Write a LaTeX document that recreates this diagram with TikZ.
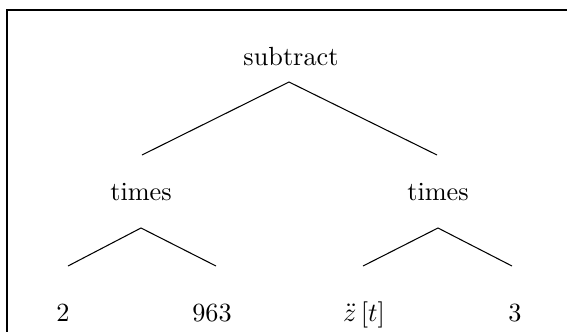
\documentclass[tikz,border=0pt]{standalone}
\begin{document}
\begin{tikzpicture}[x=0.381pt,y=-0.381pt,
  lbl/.style={anchor=base,inner sep=0pt,font=\fontsize{10}{12}\selectfont},
  edge/.style={line width=0.4pt},
  frame/.style={line width=1pt}]
\useasboundingbox (0,0) rectangle (567,331);
\clip (0,0) rectangle (567,331);
\draw[frame] (7,10) rectangle (600,360);
\node[lbl] (root) at (291,65) {subtract};
\node[lbl] (t1) at (141,200) {times};
\node[lbl] (t2) at (438,200) {times};
\node[lbl] (l1) at (63,321) {2};
\node[lbl] (l2) at (212,321) {963};
\node[lbl] (l3) at (364,321) {$\ddot{z}\left[t\right]$};
\node[lbl] (l4) at (515,321) {3};
\coordinate (rootb) at (289,82);
\coordinate (t1a) at (142,155);
\coordinate (t2a) at (437,155);
\coordinate (t1b) at (141,228);
\coordinate (t2b) at (438,228);
\coordinate (l1a) at (68,266);
\coordinate (l2a) at (216,266);
\coordinate (l3a) at (363,266);
\coordinate (l4a) at (512,266);
\draw[edge] (t1a) -- (rootb) -- (t2a);
\draw[edge] (l1a) -- (t1b) -- (l2a);
\draw[edge] (l3a) -- (t2b) -- (l4a);
\end{tikzpicture}
\end{document}
